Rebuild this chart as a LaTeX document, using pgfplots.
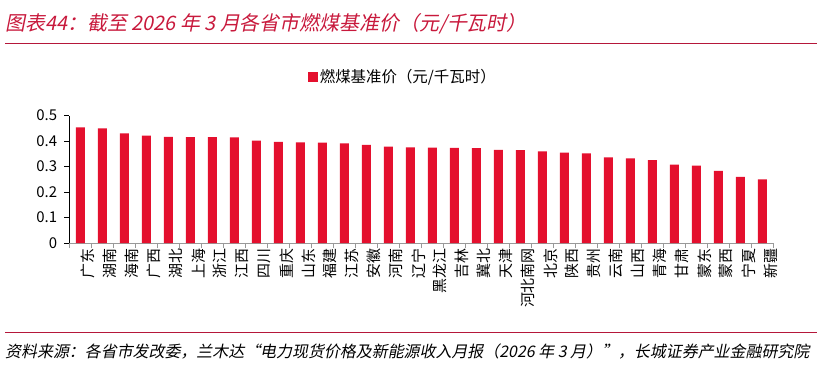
\documentclass[border=0pt]{standalone}
\usepackage{fontspec}
\setmainfont{Noto Sans CJK SC}
\newfontfamily\slantfont[FakeSlant=0.2]{Noto Sans CJK SC}
\usepackage{pgfplots}
\pgfplotsset{compat=1.18}
\definecolor{barred}{HTML}{E4102E}
\definecolor{titlered}{HTML}{C8193C}
\definecolor{linered}{HTML}{B5173A}
\begin{document}
\begin{tikzpicture}
\path[use as bounding box] (0,0) rectangle (823bp,373bp);
\node[anchor=west, text=titlered, font={\slantfont\fontsize{20}{23}\selectfont}, inner sep=0pt] at (5bp,349bp) {图表44：截至 2026 年 3 月各省市燃煤基准价（元/千瓦时）};
\draw[linered, line width=1bp] (5bp,329bp) -- (817bp,329bp);
\draw[linered, line width=1bp] (5bp,40bp) -- (817bp,40bp);
\node[anchor=west, text=black, font={\slantfont\fontsize{16}{18}\selectfont}, inner sep=0pt] at (5bp,21bp) {资料来源：各省市发改委，兰木达“电力现货价格及新能源收入月报（2026 年 3 月）”，长城证券产业金融研究院};
\begin{axis}[
  at={(69.3bp,130bp)}, anchor=south west,
  scale only axis, width=704bp, height=127.5bp,
  xmin=-0.5, xmax=31.5, ymin=0, ymax=0.5,
  axis x line*=bottom, axis y line*=left,
  x axis line style={draw=gray!80, -},
  y axis line style={draw=black, -},
  ytick={0,0.1,0.2,0.3,0.4,0.5},
  yticklabels={0,0.1,0.2,0.3,0.4,0.5},
  tick align=outside,
  major tick length=5bp, minor tick length=5bp,
  y tick style={draw=black},
  major x tick style={draw=none},
  minor x tick style={draw=gray!80},
  minor xtick={-0.5,0.5,...,31.5},
  xtick={0,...,31},
  xticklabels={广东,湖南,海南,广西,湖北,上海,浙江,江西,四川,重庆,山东,福建,江苏,安徽,河南,辽宁,黑龙江,吉林,冀北,天津,河北南网,北京,陕西,贵州,云南,山西,青海,甘肃,蒙东,蒙西,宁夏,新疆},
  xticklabel style={rotate=90, anchor=east, font={\fontsize{15}{17}\selectfont}, inner sep=0pt, yshift=-8bp},
  yticklabel style={font={\fontsize{15}{17}\selectfont}, anchor=east, inner sep=0pt, xshift=-7bp},
  /pgf/number format/assume math mode=true,
  legend style={at={(0.474,1.302)}, anchor=center, draw=none, fill=none, inner sep=0pt, font={\fontsize{15.5}{17}\selectfont}, legend cell align=left},
  legend image code/.code={\fill[barred] (0bp,-4.8bp) rectangle (9.6bp,4.8bp);},
  clip=false,
]
\addplot[ybar, bar width=9bp, fill=barred, draw=none] coordinates {
(0,0.453) (1,0.450) (2,0.4298) (3,0.4207) (4,0.4161) (5,0.4155) (6,0.4153) (7,0.4143)
(8,0.4012) (9,0.3964) (10,0.3949) (11,0.3932) (12,0.3910) (13,0.3844) (14,0.3779) (15,0.3749)
(16,0.3740) (17,0.3731) (18,0.3720) (19,0.3655) (20,0.3644) (21,0.3598) (22,0.3545) (23,0.3515)
(24,0.3358) (25,0.3320) (26,0.3247) (27,0.3078) (28,0.3035) (29,0.2829) (30,0.2595) (31,0.2500)
};
\addlegendentry{燃煤基准价（元/千瓦时）}
\end{axis}
\end{tikzpicture}
\end{document}
